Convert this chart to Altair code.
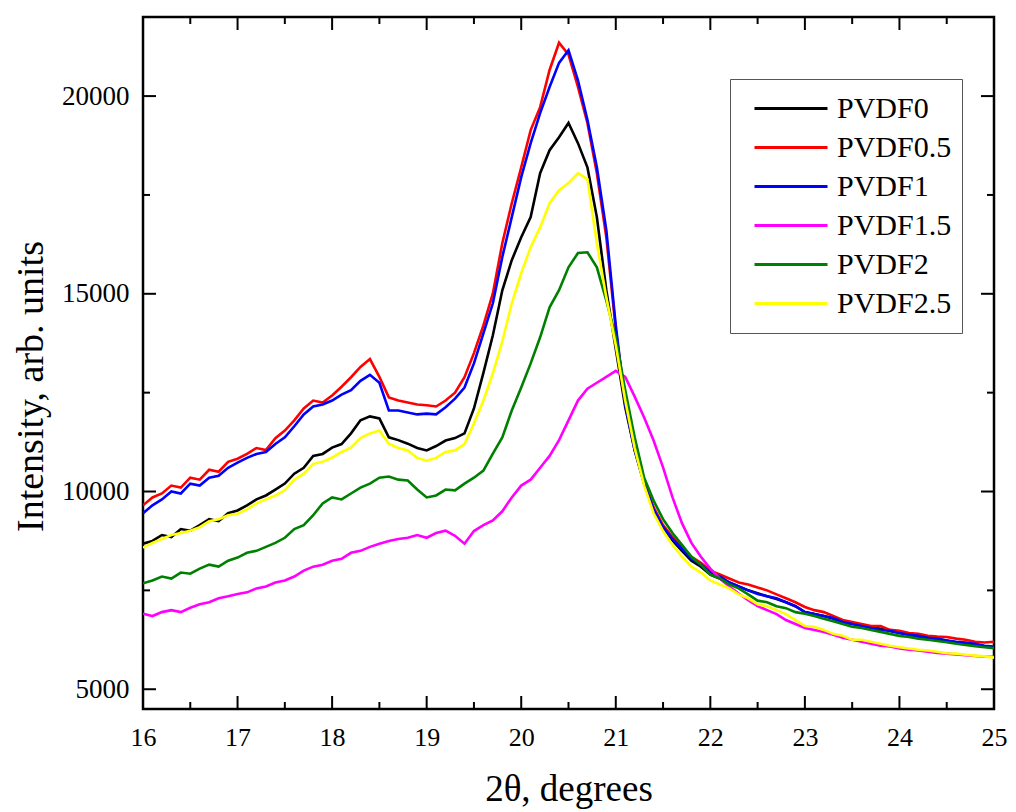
import altair as alt
import pandas as pd

# 2theta grid (degrees), 16.0 .. 25.0 step 0.1
TWO_THETA = [round(16 + i * 0.1, 1) for i in range(91)]

PVDF0 = [8680, 8750, 8900, 8850, 9050, 9010, 9150, 9300, 9250, 9450,
         9520, 9650, 9800, 9900, 10050, 10200, 10450, 10600, 10900, 10950,
         11110, 11200, 11470, 11800, 11900, 11850, 11370, 11300, 11210, 11100,
         11040, 11150, 11290, 11350, 11470, 12100, 13000, 13950, 15090, 15850,
         16430, 16940, 18050, 18630, 18960, 19320, 18810, 18200, 16940, 15090,
         13600, 12130, 11040, 10200, 9520, 9090, 8760, 8500, 8250, 8100,
         7900, 7800, 7700, 7600, 7500, 7430, 7350, 7280, 7200, 7100,
         6950, 6900, 6850, 6780, 6700, 6650, 6620, 6570, 6530, 6470,
         6420, 6380, 6330, 6300, 6260, 6230, 6180, 6150, 6120, 6080,
         6050]

PVDF0_5 = [9650, 9850, 9950, 10150, 10100, 10350, 10300, 10550, 10500, 10750,
           10830, 10950, 11100, 11050, 11350, 11540, 11800, 12100, 12300, 12250,
           12430, 12650, 12890, 13150, 13350, 12900, 12380, 12300, 12250, 12200,
           12180, 12150, 12300, 12500, 12890, 13500, 14200, 15010, 16280, 17290,
           18200, 19140, 19720, 20660, 21350, 21050, 20230, 19320, 18050, 16430,
           14100, 12250, 11100, 10250, 9600, 9150, 8850, 8600, 8350, 8200,
           8000, 7900, 7800, 7700, 7650, 7570, 7500, 7400, 7300, 7200,
           7080, 7000, 6950, 6850, 6750, 6700, 6650, 6600, 6600, 6500,
           6480, 6420, 6400, 6350, 6330, 6320, 6280, 6250, 6200, 6180,
           6200]

PVDF1 = [9450, 9650, 9800, 10000, 9950, 10200, 10150, 10350, 10400, 10600,
         10730, 10850, 10950, 11000, 11200, 11370, 11650, 11950, 12150, 12200,
         12300, 12450, 12560, 12800, 12950, 12750, 12050, 12050, 12000, 11950,
         11970, 11950, 12130, 12350, 12630, 13240, 14000, 14760, 15930, 16940,
         17950, 18810, 19570, 20230, 20840, 21160, 20400, 19400, 18200, 16610,
         14200, 12200, 11050, 10200, 9550, 9100, 8800, 8550, 8300, 8150,
         7950, 7850, 7700, 7600, 7500, 7410, 7350, 7300, 7200, 7100,
         6950, 6900, 6850, 6800, 6700, 6650, 6600, 6550, 6500, 6480,
         6420, 6380, 6350, 6300, 6280, 6230, 6200, 6180, 6150, 6100,
         6080]

PVDF1_5 = [6910, 6850, 6950, 7000, 6950, 7060, 7150, 7200, 7300, 7350,
           7410, 7450, 7550, 7600, 7700, 7750, 7850, 8000, 8100, 8150,
           8250, 8300, 8450, 8500, 8600, 8680, 8750, 8800, 8830, 8900,
           8830, 8950, 9010, 8880, 8680, 9000, 9150, 9270, 9500, 9850,
           10150, 10300, 10600, 10900, 11300, 11800, 12300, 12600, 12750, 12900,
           13050, 12900, 12400, 11870, 11290, 10610, 9850, 9200, 8700, 8350,
           8050, 7800, 7600, 7420, 7250, 7100, 7000, 6900, 6750, 6650,
           6550, 6500, 6450, 6380, 6300, 6250, 6200, 6150, 6100, 6080,
           6030, 6000, 5980, 5950, 5920, 5900, 5880, 5860, 5840, 5820,
           5820]

PVDF2 = [7680, 7750, 7850, 7800, 7950, 7920, 8050, 8150, 8100, 8250,
         8330, 8450, 8500, 8600, 8700, 8830, 9050, 9150, 9400, 9700,
         9850, 9800, 9950, 10100, 10200, 10350, 10380, 10300, 10280, 10050,
         9850, 9900, 10050, 10030, 10200, 10350, 10530, 10960, 11370, 12050,
         12630, 13240, 13900, 14660, 15090, 15670, 16030, 16050, 15670, 14830,
         13900, 12560, 11370, 10350, 9770, 9300, 8950, 8650, 8350, 8150,
         7900, 7800, 7650, 7550, 7400, 7240, 7200, 7100, 7050, 6950,
         6910, 6850, 6780, 6720, 6650, 6580, 6550, 6500, 6450, 6400,
         6350, 6320, 6280, 6250, 6220, 6190, 6150, 6120, 6090, 6060,
         6040]

PVDF2_5 = [8580, 8700, 8800, 8900, 8950, 9010, 9100, 9250, 9300, 9400,
           9440, 9550, 9700, 9800, 9900, 10030, 10300, 10450, 10700, 10750,
           10860, 11000, 11110, 11350, 11470, 11540, 11210, 11100, 11040, 10850,
           10780, 10850, 11000, 11040, 11200, 11720, 12300, 12990, 13800, 14760,
           15520, 16180, 16680, 17290, 17620, 17800, 18050, 17900, 16280, 14910,
           13700, 12300, 11100, 10150, 9450, 9000, 8650, 8350, 8100, 7950,
           7750, 7650, 7550, 7400, 7300, 7150, 7100, 7000, 6900, 6750,
           6600, 6580, 6500, 6400, 6350, 6250, 6250, 6200, 6150, 6100,
           6060, 6030, 6000, 5980, 5950, 5910, 5900, 5870, 5850, 5830,
           5800]

SERIES = ["PVDF0", "PVDF0.5", "PVDF1", "PVDF1.5", "PVDF2", "PVDF2.5"]
COLORS = ["#000000", "#ff0000", "#0000ff", "#ff00ff", "#008000", "#ffff00"]
VALUES = [PVDF0, PVDF0_5, PVDF1, PVDF1_5, PVDF2, PVDF2_5]

X_MAJOR = [16, 17, 18, 19, 20, 21, 22, 23, 24, 25]
X_MINOR = [16.5, 17.5, 18.5, 19.5, 20.5, 21.5, 22.5, 23.5, 24.5]
Y_MAJOR = [5000, 10000, 15000, 20000]
Y_MINOR = [7500, 12500, 17500]

W, H = 851, 692
FONT = "Liberation Serif"
XTITLE = "2θ, degrees"
YTITLE = "Intensity, arb. units"

rows = []
for name, vals in zip(SERIES, VALUES):
    for x, y in zip(TWO_THETA, vals):
        rows.append({"x": x, "y": y, "s": name})
df = pd.DataFrame(rows)

xscale = alt.Scale(domain=[16, 25], nice=False, zero=False)
yscale = alt.Scale(domain=[4500, 22000], nice=False, zero=False)

xaxis = alt.Axis(values=X_MAJOR, format="d", grid=False, domain=False,
                 ticks=False, tickSize=0, labelFlush=False,
                 labelFont=FONT, labelFontSize=26, labelColor="black",
                 labelBaseline="alphabetic", labelPadding=36,
                 titleFont=FONT, titleFontSize=37, titleFontWeight="normal",
                 titleColor="black", titleBaseline="alphabetic",
                 titleX=W / 2, titleY=91)
yaxis = alt.Axis(values=Y_MAJOR, format="d", grid=False, domain=False,
                 ticks=False, tickSize=0, labelFlush=False,
                 labelFont=FONT, labelFontSize=27, labelColor="black",
                 labelPadding=14,
                 titleFont=FONT, titleFontSize=38, titleFontWeight="normal",
                 titleColor="black", titleBaseline="alphabetic",
                 titleAngle=270, titleX=-101, titleY=369)

lines = alt.Chart(df).mark_line(strokeWidth=2.6, clip=True).encode(
    x=alt.X("x:Q", scale=xscale, title=XTITLE, axis=xaxis),
    y=alt.Y("y:Q", scale=yscale, title=YTITLE, axis=yaxis),
    color=alt.Color("s:N", scale=alt.Scale(domain=SERIES, range=COLORS),
                    legend=alt.Legend(title=None, orient="none", legendX=587, legendY=62,
                                      symbolType="stroke", symbolSize=5329,
                                      symbolStrokeWidth=3, symbolOffset=13,
                                      labelFont=FONT, labelFontSize=30,
                                      labelColor="black", labelOffset=8,
                                      clipHeight=39, rowPadding=0, padding=10,
                                      strokeColor="#555555", fillColor="white")),
)


def xticks(vals, length):
    d = pd.DataFrame({"t": vals})
    base = alt.Chart(d).mark_rule(color="black", strokeWidth=2)
    enc = alt.X("t:Q", scale=xscale, axis=None)
    bottom = base.encode(x=enc, y=alt.value(H), y2=alt.value(H - length))
    top = base.encode(x=enc, y=alt.value(0), y2=alt.value(length))
    return [bottom, top]


def yticks(vals, length):
    d = pd.DataFrame({"t": vals})
    base = alt.Chart(d).mark_rule(color="black", strokeWidth=2)
    enc = alt.Y("t:Q", scale=yscale, axis=None)
    left = base.encode(y=enc, x=alt.value(0), x2=alt.value(length))
    right = base.encode(y=enc, x=alt.value(W), x2=alt.value(W - length))
    return [left, right]


layers = ([lines] + xticks(X_MAJOR, 13) + xticks(X_MINOR, 7)
          + yticks(Y_MAJOR, 13) + yticks(Y_MINOR, 7))

chart = alt.layer(*layers).resolve_axis(
    x="independent", y="independent"
).properties(
    width=W, height=H,
    background="white",
    autosize=alt.AutoSizeParams(type="none"),
    padding={"left": 135, "top": 9, "right": 14, "bottom": 103},
).configure_view(stroke="black", strokeWidth=2.5)

chart.save("out.html", embed_options={"renderer": "svg", "actions": False})
